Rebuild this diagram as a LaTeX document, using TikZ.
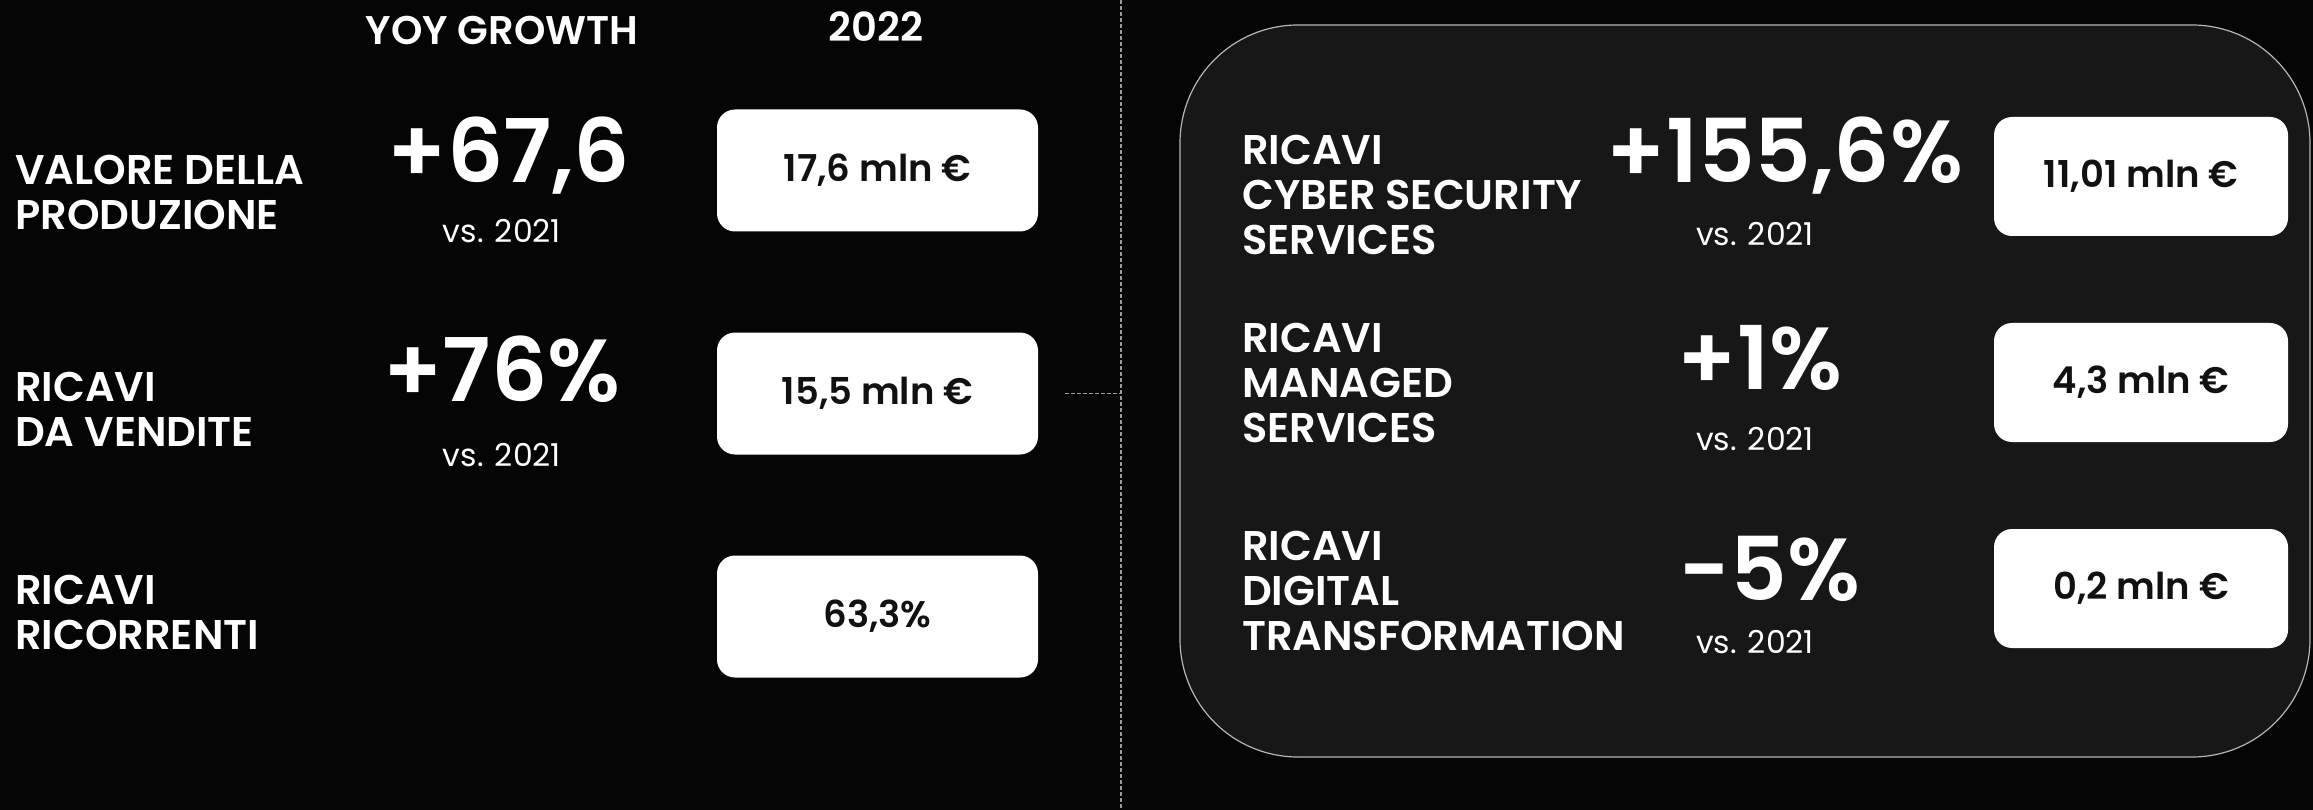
\documentclass[tikz,border=0pt]{standalone}
\usepackage{fontspec}
\setmainfont{Poppins}[BoldFont={* SemiBold}]
\usetikzlibrary{positioning}
\definecolor{bgblack}{HTML}{050505}
\definecolor{panelgrey}{HTML}{171717}
\definecolor{edgegrey}{HTML}{B5B5B5}
\definecolor{dashgrey}{HTML}{9A9A9A}
\definecolor{boxtext}{HTML}{111111}
\tikzstyle{rowlabel} = [anchor=west, align=left, text=white, font=\bfseries\fontsize{41.5}{45}\selectfont, inner sep=0pt]
\tikzstyle{header} = [text=white, font=\bfseries\fontsize{40}{42}\selectfont, inner sep=0pt]
\tikzstyle{bignum} = [anchor=base, text=white, font=\bfseries\fontsize{88}{90}\selectfont, inner sep=0pt]
\tikzstyle{vsnote} = [anchor=base, text=white, font=\fontsize{31.5}{33}\selectfont, inner sep=0pt]
\tikzstyle{valbox} = [rectangle, rounded corners=18pt, minimum width=321pt, minimum height=122pt, fill=white, text=boxtext, font=\bfseries\fontsize{37}{40}\selectfont]
\tikzstyle{dashline} = [dashgrey, line width=1.2pt, dash pattern=on 4pt off 2pt]

\begin{document}
\begin{tikzpicture}[x=1pt, y=-1pt, node distance=223pt]
\fill[bgblack] (0,0) rectangle (2313,810);
\useasboundingbox (0,0) rectangle (2313,810);

% right panel
\draw[edgegrey, fill=panelgrey, line width=1.2pt, rounded corners=118pt] (1180,25) rectangle (2310,757);

% headers
\node (hyoy) [header] at (502,30) {YOY GROWTH};
\node (hyear) [header] at (876,27) {2022};

% left side
\node (lab1) [rowlabel] at (15,192) {VALORE DELLA\\PRODUZIONE};
\node (lab2) [rowlabel] at (15,409) {RICAVI\\DA VENDITE};
\node (lab3) [rowlabel] at (15,612) {RICAVI\\RICORRENTI};

\node (g1) [bignum] at (509,183) {+67,6};
\node (vs1) [vsnote] at (502,243) {vs. 2021};
\node (g2) [bignum] at (502,401) {+76\%};
\node (vs2) [vsnote] at (502,466) {vs. 2021};

\node (box1) [valbox] at (877.5,170.5) {17,6 mln €};
\node (box2) [valbox, below of=box1] {15,5 mln €};
\node (box3) [valbox, below of=box2] {63,3\%};

% right side
\node (rlab1) [rowlabel] at (1242,195) {RICAVI\\CYBER SECURITY\\SERVICES};
\node (rlab2) [rowlabel] at (1242,383) {RICAVI\\MANAGED\\SERVICES};
\node (rlab3) [rowlabel] at (1242,591) {RICAVI\\DIGITAL\\TRANSFORMATION};

\node (rg1) [bignum] at (1785,183) {+155,6\%};
\node (rvs1) [vsnote] at (1755,246) {vs. 2021};
\node (rg2) [bignum] at (1760,389) {+1\%};
\node (rvs2) [vsnote] at (1755,450) {vs. 2021};
\node (rg3) [bignum] at (1770,600) {-5\%};
\node (rvs3) [vsnote] at (1755,653) {vs. 2021};

\node (rbox1) [valbox, minimum width=294pt, minimum height=119pt] at (2141,176.5) {11,01 mln €};
\node (rbox2) [valbox, minimum width=294pt, minimum height=119pt, below of=rbox1, node distance=206pt] {4,3 mln €};
\node (rbox3) [valbox, minimum width=294pt, minimum height=119pt, below of=rbox2, node distance=206pt] {0,2 mln €};

% divider
\coordinate (divtop) at (1121,0);
\coordinate (divbot) at (1121,810);
\draw [dashline] (divtop) -- (divbot);
\draw [dashline] ([xshift=27pt]box2.east) -- (box2.east -| divtop);

\end{tikzpicture}
\end{document}
